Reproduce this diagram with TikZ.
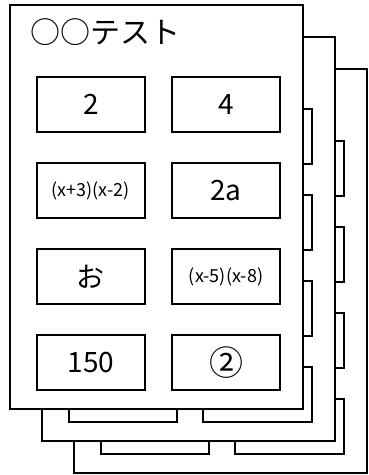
\documentclass[tikz,border=0pt]{standalone}
\usepackage{fontspec}
\setmainfont{Noto Sans CJK JP}
\usetikzlibrary{positioning}

\begin{document}
\begin{tikzpicture}[
    x=1pt, y=1pt,
    node distance=31pt and 26.7pt,
    sheet/.style={draw, line width=2pt, fill=white, inner sep=0pt, outer sep=0pt, anchor=north west, minimum width=293pt, minimum height=404pt},
    ans/.style={draw, line width=2.2pt, fill=white, inner sep=0pt, outer sep=0pt, minimum width=108.5pt, minimum height=55pt, font=\fontsize{28}{30}\selectfont},
    small/.style={font=\fontsize{18}{20}\selectfont}
]
\useasboundingbox (0,0) rectangle (368,475);

\foreach \k in {2,1} {
  \node[sheet] (sheet\k) at (10+32*\k, 470-32*\k) {};
  \foreach \r in {1,...,4} {
    \node[ans] (b\k-\r-1) at (90.85+32*\k, 456.1-85.9*\r-32*\k) {};
    \node[ans] (b\k-\r-2) at (225.55+32*\k, 456.1-85.9*\r-32*\k) {};
  }
}

\node[sheet] (sheet0) at (10,470) {};
\node[anchor=base west, inner sep=0pt, font=\fontsize{30}{32}\selectfont] (title) at (30,431) {○○テスト};

\node[ans] (q1) at (90.85,370.2) {2};
\node[ans, right=of q1] (q2) {4};
\node[ans, small, below=of q1] (q3) {(x+3)(x-2)};
\node[ans, right=of q3] (q4) {2a};
\node[ans, below=of q3] (q5) {お};
\node[ans, small, right=of q5] (q6) {(x-5)(x-8)};
\node[ans, below=of q5] (q7) {150};
\node[ans, right=of q7, font=\fontsize{34}{36}\selectfont] (q8) {②};

\end{tikzpicture}
\end{document}
